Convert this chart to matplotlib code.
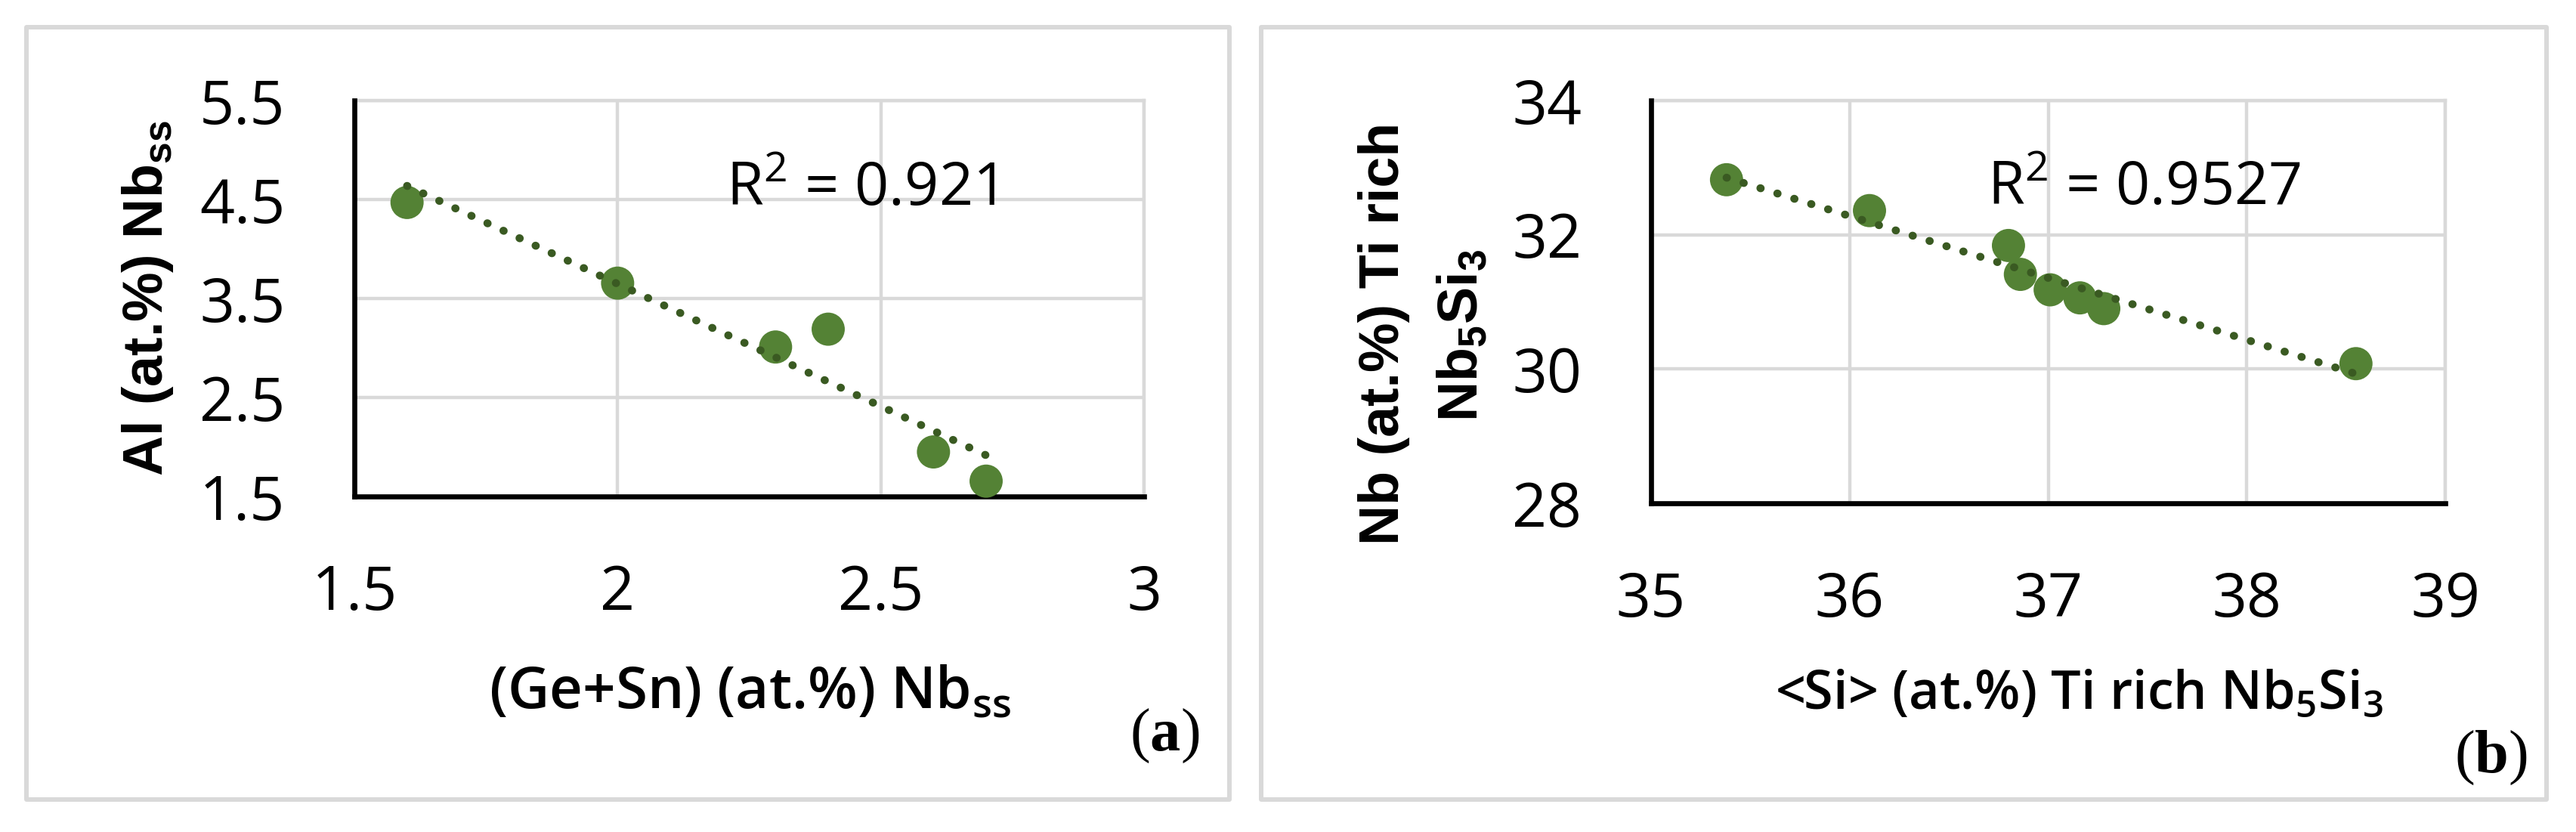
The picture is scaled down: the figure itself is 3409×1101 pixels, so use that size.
import numpy as np
import matplotlib
matplotlib.use("Agg")
import matplotlib.pyplot as plt
from matplotlib.patches import Rectangle

# ---------------- data ----------------
a_x = [1.60, 2.00, 2.30, 2.40, 2.60, 2.70]
a_y = [4.47, 3.655, 3.01, 3.19, 1.95, 1.655]
b_x = [35.38, 36.10, 36.80, 36.86, 37.01, 37.16, 37.28, 38.55]
b_y = [32.82, 32.36, 31.84, 31.41, 31.18, 31.06, 30.90, 30.08]

a_xticks = [1.5, 2.0, 2.5, 3.0]
a_xticklabels = ["1.5", "2", "2.5", "3"]
a_yticks = [1.5, 2.5, 3.5, 4.5, 5.5]
a_yticklabels = ["1.5", "2.5", "3.5", "4.5", "5.5"]
b_xticks = [35, 36, 37, 38, 39]
b_xticklabels = ["35", "36", "37", "38", "39"]
b_yticks = [28, 30, 32, 34]
b_yticklabels = ["28", "30", "32", "34"]

a_r2 = "R$^\\mathregular{2}$ = 0.921"
b_r2 = "R$^\\mathregular{2}$ = 0.9527"
a_xlabel = "(Ge+Sn) (at.%) Nb$_\\mathregular{ss}$"
a_ylabel = "Al (at.%) Nb$_\\mathregular{ss}$"
b_xlabel = "<Si> (at.%) Ti rich Nb$_\\mathregular{5}$Si$_\\mathregular{3}$"
b_ylabel1 = "Nb (at.%) Ti rich"
b_ylabel2 = "Nb$_\\mathregular{5}$Si$_\\mathregular{3}$"

# ---------------- style ----------------
plt.rcParams["font.family"] = ["Open Sans", "DejaVu Sans"]
plt.rcParams["mathtext.fontset"] = "custom"
plt.rcParams["mathtext.bf"] = "Liberation Serif:bold"

W, H = 3409, 1101
fig = plt.figure(figsize=(W / 100, H / 100), dpi=100)
fig.patch.set_facecolor("white")

GRID = "#d9d9d9"
MARK = "#548235"
TREND = "#3a5a22"


def setup(ax, x, y, xlim, ylim, xt, xtl, yt, ytl):
    ax.scatter(x, y, s=1000, color=MARK, edgecolors="none", zorder=3, clip_on=False)
    coef = np.polyfit(x, y, 1)
    xs = np.array([min(x), max(x)])
    ax.plot(xs, np.polyval(coef, xs), color=TREND, lw=7.5,
            linestyle=(0, (0.05, 2.2)), dash_capstyle="round", zorder=4,
            clip_on=False)
    ax.set_xlim(*xlim)
    ax.set_ylim(*ylim)
    ax.set_xticks(xt)
    ax.set_xticklabels(xtl)
    ax.set_yticks(yt)
    ax.set_yticklabels(ytl)
    ax.grid(True, color=GRID, lw=3.2)
    ax.set_axisbelow(True)
    for s in ("left", "bottom"):
        ax.spines[s].set_color("black")
        ax.spines[s].set_linewidth(4.8)
        ax.spines[s].set_zorder(2.6)
    for s in ("top", "right"):
        ax.spines[s].set_color(GRID)
        ax.spines[s].set_linewidth(3.2)
    ax.tick_params(axis="both", length=0, labelsize=58, colors="black")
    ax.tick_params(axis="x", pad=64)
    ax.tick_params(axis="y", pad=66)


# panel (a)
ax_a = fig.add_axes([469 / W, 1 - 657 / H, (1514 - 469) / W, (657 - 133) / H])
setup(ax_a, a_x, a_y, (1.5, 3.0), (1.5, 5.5), a_xticks, a_xticklabels,
      a_yticks, a_yticklabels)
ax_a.set_xlabel(a_xlabel, fontsize=55, fontweight="semibold")
ax_a.xaxis.set_label_coords(0.501, -0.534)
ax_a.xaxis.label.set_va("baseline")
ax_a.set_ylabel(a_ylabel, fontsize=53, fontweight="bold",
                fontfamily=["Liberation Sans", "DejaVu Sans"])
ax_a.yaxis.set_label_coords(-0.2431, 0.500)
ax_a.yaxis.label.set_va("baseline")
ax_a.text(0.4708, 0.7366, a_r2, transform=ax_a.transAxes, fontsize=57,
          ha="left", va="baseline")

# panel (b)
ax_b = fig.add_axes([2185 / W, 1 - 666 / H, (3236 - 2185) / W, (666 - 133) / H])
setup(ax_b, b_x, b_y, (35, 39), (28, 34), b_xticks, b_xticklabels,
      b_yticks, b_yticklabels)
ax_b.set_xlabel(b_xlabel, fontsize=50.5, fontweight="semibold")
ax_b.xaxis.set_label_coords(0.539, -0.510)
ax_b.xaxis.label.set_va("baseline")
ax_b.set_ylabel(b_ylabel1, fontsize=53, fontweight="bold",
                fontfamily=["Liberation Sans", "DejaVu Sans"])
ax_b.yaxis.set_label_coords(-0.3178, 0.4212)
ax_b.yaxis.label.set_va("baseline")
ax_b.text(-0.2188, 0.4165, b_ylabel2, transform=ax_b.transAxes, fontsize=53,
          fontweight="bold", fontfamily=["Liberation Sans", "DejaVu Sans"],
          rotation=90, rotation_mode="anchor", ha="center", va="baseline")
ax_b.text(0.4234, 0.743, b_r2, transform=ax_b.transAxes, fontsize=57,
          ha="left", va="baseline")

# panel letters
fig.text(1587 / W, 1 - 993 / H, "($\\mathbf{a}$)", fontsize=58,
         fontfamily=["Liberation Serif", "DejaVu Serif"], ha="right", va="baseline")
fig.text(3345 / W, 1 - 1022 / H, "($\\mathbf{b}$)", fontsize=58,
         fontfamily=["Liberation Serif", "DejaVu Serif"], ha="right", va="baseline")

# panel frames
for (x0, x1) in ((35, 1627), (1669, 3370)):
    fig.add_artist(Rectangle((x0 / W, 1 - 1058 / H), (x1 - x0) / W, (1058 - 36) / H,
                             transform=fig.transFigure, fill=False,
                             edgecolor=GRID, lw=4.3, joinstyle="round"))

fig.savefig("out.png", dpi=100, facecolor="white")
